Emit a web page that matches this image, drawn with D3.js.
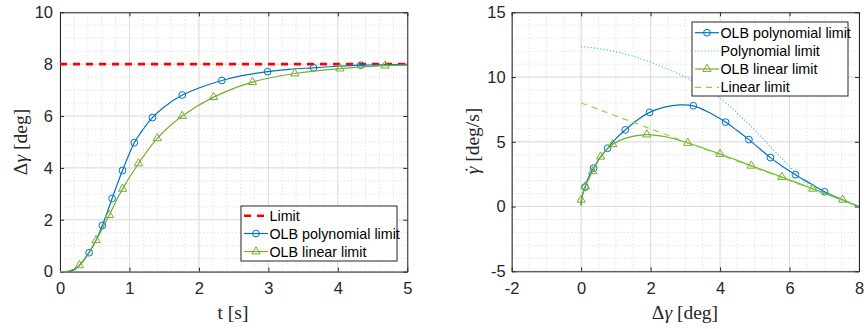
<!DOCTYPE html>
<html lang="en">
<head>
<meta charset="utf-8">
<title>OLB limits</title>
<script src="https://d3js.org/d3.v7.min.js"></script>
<style>
  body { margin: 0; background: #fff; }
  svg text { font-family: "Liberation Sans", Arial, sans-serif; }
  svg text.lbl { font-family: "Liberation Serif", "Times New Roman", serif; }
</style>
</head>
<body>
<div id="chart"></div>
<script>
// ---- left panel: delta gamma vs time ----
const leftXTicks = [0, 1, 2, 3, 4, 5];
const leftYTicks = [0, 2, 4, 6, 8, 10];
const limitT = [0, 5];
const limitDg = [8, 8];

const polyT  = [0, 0.1, 0.2, 0.3, 0.42, 0.52, 0.61, 0.75, 0.9, 1.07, 1.2, 1.33, 1.5, 1.76, 2.0, 2.33, 2.6, 2.99, 3.3, 3.65, 4.0, 4.33, 4.7, 5.0];
const polyDg = [0, 0.0, 0.06, 0.3, 0.73, 1.22, 1.78, 2.82, 3.9, 4.97, 5.5, 5.94, 6.35, 6.81, 7.08, 7.37, 7.55, 7.71, 7.8, 7.86, 7.92, 7.96, 7.98, 7.99];
const polyMarkT  = [0.42, 0.61, 0.75, 0.9, 1.07, 1.33, 1.76, 2.33, 2.99, 3.65, 4.33];
const polyMarkDg = [0.73, 1.78, 2.82, 3.9, 4.97, 5.94, 6.81, 7.37, 7.71, 7.86, 7.96];

const linT  = [0, 0.1, 0.2, 0.28, 0.4, 0.52, 0.71, 0.9, 1.13, 1.4, 1.76, 2.21, 2.77, 3.38, 4.03, 4.68, 5.0];
const linDg = [0, 0.01, 0.1, 0.24, 0.68, 1.21, 2.18, 3.19, 4.17, 5.14, 6.0, 6.73, 7.31, 7.64, 7.83, 7.94, 7.96];
const linMarkT  = [0.28, 0.52, 0.71, 0.9, 1.13, 1.4, 1.76, 2.21, 2.77, 3.38, 4.03, 4.68];
const linMarkDg = [0.24, 1.21, 2.18, 3.19, 4.17, 5.14, 6.0, 6.73, 7.31, 7.64, 7.83, 7.94];

// ---- right panel: rate vs delta gamma ----
const rightXTicks = [-2, 0, 2, 4, 6, 8];
const rightYTicks = [-5, 0, 5, 10, 15];

const phPolyDg   = [0, 0.04, 0.11, 0.22, 0.36, 0.55, 0.76, 1.0, 1.27, 1.6, 1.97, 2.4, 2.85, 3.23, 3.7, 4.16, 4.5, 4.83, 5.15, 5.45, 5.8, 6.17, 6.6, 7.01, 7.5, 8.0];
const phPolyRate = [0.1, 0.9, 1.5, 2.3, 2.97, 3.8, 4.5, 5.25, 5.92, 6.65, 7.27, 7.68, 7.85, 7.78, 7.25, 6.52, 5.85, 5.17, 4.45, 3.78, 3.1, 2.46, 1.78, 1.14, 0.55, 0];
const phPolyMarkDg   = [0.11, 0.36, 0.76, 1.27, 1.97, 3.23, 4.16, 4.83, 5.45, 6.17, 7.01];
const phPolyMarkRate = [1.5, 2.97, 4.5, 5.92, 7.27, 7.78, 6.52, 5.17, 3.78, 2.46, 1.14];

const polyLimDg   = [0, 0.5, 1.0, 1.5, 2.0, 2.5, 3.0, 3.5, 4.0, 4.5, 5.0, 5.5, 6.0, 6.5, 7.0, 7.5, 8.0];
const polyLimRate = [12.35, 12.2, 11.95, 11.6, 11.15, 10.6, 10.0, 9.25, 8.38, 7.2, 5.9, 4.48, 3.1, 1.78, 1.08, 0.5, 0];

const phLinDg   = [0, 0, 0.05, 0.12, 0.33, 0.56, 0.91, 1.3, 1.89, 2.5, 3.07, 4.0, 4.9, 5.78, 6.67, 7.53, 8.0];
const phLinRate = [0.05, 0.52, 1.0, 1.55, 2.72, 3.85, 4.81, 5.3, 5.56, 5.35, 4.91, 4.06, 3.15, 2.28, 1.37, 0.52, 0];
const phLinMarkDg   = [0, 0.12, 0.33, 0.56, 0.91, 1.89, 3.07, 4.0, 4.9, 5.78, 6.67, 7.53];
const phLinMarkRate = [0.52, 1.55, 2.72, 3.85, 4.81, 5.56, 4.91, 4.06, 3.15, 2.28, 1.37, 0.52];

const linLimDg   = [0, 8];
const linLimRate = [8, 0];

const BLUE = '#0072BD', GREEN = '#77AC30', RED = '#FF0000', LBLUE = '#4DBEEE', LGREEN = '#7EDC35';

const svg = d3.select('#chart').append('svg')
  .attr('width', 867).attr('height', 329);

const zip = (a, b) => a.map((v, i) => [v, b[i]]);

function panel(o) {
  const x = d3.scaleLinear().domain(o.xd).range([o.x0, o.x1]);
  const y = d3.scaleLinear().domain(o.yd).range([o.y1, o.y0]);
  const g = svg.append('g');

  // minor grid
  const mx = d3.range(o.xd[0], o.xd[1] + 1e-9, o.xMinor);
  const my = d3.range(o.yd[0], o.yd[1] + 1e-9, o.yMinor);
  g.selectAll('.mx').data(mx).enter().append('line')
    .attr('x1', d => x(d)).attr('x2', d => x(d)).attr('y1', o.y0).attr('y2', o.y1)
    .attr('stroke', '#e3e3e3').attr('stroke-dasharray', '1.5,2');
  g.selectAll('.my').data(my).enter().append('line')
    .attr('y1', d => y(d)).attr('y2', d => y(d)).attr('x1', o.x0).attr('x2', o.x1)
    .attr('stroke', '#e3e3e3').attr('stroke-dasharray', '1.5,2');
  // major grid
  g.selectAll('.gx').data(o.xt).enter().append('line')
    .attr('x1', d => x(d)).attr('x2', d => x(d)).attr('y1', o.y0).attr('y2', o.y1)
    .attr('stroke', '#dcdcdc');
  g.selectAll('.gy').data(o.yt).enter().append('line')
    .attr('y1', d => y(d)).attr('y2', d => y(d)).attr('x1', o.x0).attr('x2', o.x1)
    .attr('stroke', '#dcdcdc');

  // axes with inward ticks
  const fmt = d => String(d);
  g.append('g').attr('transform', `translate(0,${o.y1})`)
    .call(d3.axisBottom(x).tickValues(o.xt).tickFormat(fmt).tickSizeInner(-4).tickSizeOuter(0).tickPadding(11));
  g.append('g').attr('transform', `translate(0,${o.y0})`)
    .call(d3.axisTop(x).tickValues(o.xt).tickFormat('').tickSizeInner(-4).tickSizeOuter(0));
  g.append('g').attr('transform', `translate(${o.x0},0)`)
    .call(d3.axisLeft(y).tickValues(o.yt).tickFormat(fmt).tickSizeInner(-4).tickSizeOuter(0).tickPadding(o.yPad));
  g.append('g').attr('transform', `translate(${o.x1},0)`)
    .call(d3.axisRight(y).tickValues(o.yt).tickFormat('').tickSizeInner(-4).tickSizeOuter(0));
  g.selectAll('.domain').attr('stroke', '#262626');
  g.selectAll('.tick line').attr('stroke', '#262626');
  g.selectAll('.tick text').attr('fill', '#262626')
    .style('font-family', '"Liberation Sans", Arial, sans-serif').style('font-size', '16.5px');

  return { g, x, y };
}

function drawLine(p, xs, ys, color, width, dash) {
  const line = d3.line().x(d => p.x(d[0])).y(d => p.y(d[1]))
    .curve(xs.length > 2 ? d3.curveCatmullRom.alpha(0.5) : d3.curveLinear);
  p.g.append('path').datum(zip(xs, ys))
    .attr('d', line).attr('fill', 'none')
    .attr('stroke', color).attr('stroke-width', width)
    .attr('stroke-dasharray', dash || null);
}

function drawMarks(p, xs, ys, color, kind) {
  const pts = zip(xs, ys);
  if (kind === 'circle') {
    p.g.selectAll(null).data(pts).enter().append('circle')
      .attr('cx', d => p.x(d[0])).attr('cy', d => p.y(d[1])).attr('r', 3.4)
      .attr('fill', 'none').attr('stroke', color).attr('stroke-width', 1);
  } else {
    const tri = d3.symbol().type(d3.symbolTriangle).size(30);
    p.g.selectAll(null).data(pts).enter().append('path')
      .attr('d', tri).attr('transform', d => `translate(${p.x(d[0])},${p.y(d[1])})`)
      .attr('fill', 'none').attr('stroke', color).attr('stroke-width', 1);
  }
}

function legend(x0, y0, w, h, rows) {
  const lg = svg.append('g');
  lg.append('rect').attr('x', x0).attr('y', y0).attr('width', w).attr('height', h)
    .attr('fill', '#fff').attr('stroke', '#262626').attr('stroke-width', 1);
  rows.forEach(r => {
    lg.append('line').attr('x1', x0 + 3).attr('x2', x0 + 27).attr('y1', r.y).attr('y2', r.y)
      .attr('stroke', r.color).attr('stroke-width', r.width).attr('stroke-dasharray', r.dash || null);
    if (r.mark === 'circle') {
      lg.append('circle').attr('cx', x0 + 15).attr('cy', r.y).attr('r', 3.4)
        .attr('fill', 'none').attr('stroke', r.color);
    } else if (r.mark === 'tri') {
      lg.append('path').attr('d', d3.symbol().type(d3.symbolTriangle).size(30))
        .attr('transform', `translate(${x0 + 15},${r.y})`).attr('fill', 'none').attr('stroke', r.color);
    }
    lg.append('text').attr('x', x0 + 28.5).attr('y', r.y).attr('dy', '0.36em')
      .style('font-size', '14.3px').attr('fill', '#000').text(r.text);
  });
}

// left panel
const L = panel({ x0: 60, x1: 407.3, y0: 12.3, y1: 271.6, xd: [0, 5], yd: [0, 10],
  xt: leftXTicks, yt: leftYTicks, xMinor: 0.2, yMinor: 0.5, yPad: 7 });
drawLine(L, limitT, limitDg, RED, 2.6, '7,6');
drawLine(L, polyT, polyDg, BLUE, 1.2);
drawMarks(L, polyMarkT, polyMarkDg, BLUE, 'circle');
drawLine(L, linT, linDg, GREEN, 1.2);
drawMarks(L, linMarkT, linMarkDg, GREEN, 'tri');

legend(241, 206, 156, 55, [
  { y: 215.7, color: RED, width: 2.6, dash: '7,6', text: 'Limit' },
  { y: 233.5, color: BLUE, width: 1.2, mark: 'circle', text: 'OLB polynomial limit' },
  { y: 251.5, color: GREEN, width: 1.2, mark: 'tri', text: 'OLB linear limit' }
]);

svg.append('text').attr('class', 'lbl').attr('x', 233).attr('y', 319)
  .attr('text-anchor', 'middle').style('font-size', '19.5px').attr('fill', '#262626')
  .text('t [s]');
svg.append('text').attr('class', 'lbl')
  .attr('transform', 'translate(27,142) rotate(-90)')
  .attr('text-anchor', 'middle').style('font-size', '19.5px').attr('fill', '#262626')
  .html('Δ<tspan font-style="italic">γ</tspan> [deg]');

// right panel
const R = panel({ x0: 511.7, x1: 859, y0: 12.3, y1: 271.3, xd: [-2, 8], yd: [-5, 15],
  xt: rightXTicks, yt: rightYTicks, xMinor: 0.5, yMinor: 1, yPad: 6 });
drawLine(R, phPolyDg, phPolyRate, BLUE, 1.2);
drawMarks(R, phPolyMarkDg, phPolyMarkRate, BLUE, 'circle');
drawLine(R, polyLimDg, polyLimRate, LBLUE, 1.2, '1.2,2');
drawLine(R, phLinDg, phLinRate, GREEN, 1.2);
drawMarks(R, phLinMarkDg, phLinMarkRate, GREEN, 'tri');
drawLine(R, linLimDg, linLimRate, LGREEN, 1.2, '6,5');

legend(692, 22, 156, 74, [
  { y: 32.7, color: BLUE, width: 1.2, mark: 'circle', text: 'OLB polynomial limit' },
  { y: 51, color: LBLUE, width: 1.2, dash: '1.2,2', text: 'Polynomial limit' },
  { y: 69, color: GREEN, width: 1.2, mark: 'tri', text: 'OLB linear limit' },
  { y: 87.3, color: LGREEN, width: 1.2, dash: '6,5', text: 'Linear limit' }
]);

svg.append('text').attr('class', 'lbl').attr('x', 685).attr('y', 319)
  .attr('text-anchor', 'middle').style('font-size', '19.5px').attr('fill', '#262626')
  .html('Δ<tspan font-style="italic">γ</tspan> [deg]');

// rotated y label with a dot above gamma
const yl = svg.append('g').attr('transform', 'translate(479,141) rotate(-90)');
const ylt = yl.append('text').attr('class', 'lbl')
  .attr('text-anchor', 'middle').style('font-size', '19.5px').attr('fill', '#262626')
  .html('<tspan font-style="italic">γ</tspan> [deg/s]');
const gBox = ylt.node().getExtentOfChar(0);
yl.append('circle')
  .attr('cx', gBox.x + gBox.width * 0.6).attr('cy', gBox.y + gBox.height * 0.22)
  .attr('r', 1.1).attr('fill', '#262626');
</script>
</body>
</html>
